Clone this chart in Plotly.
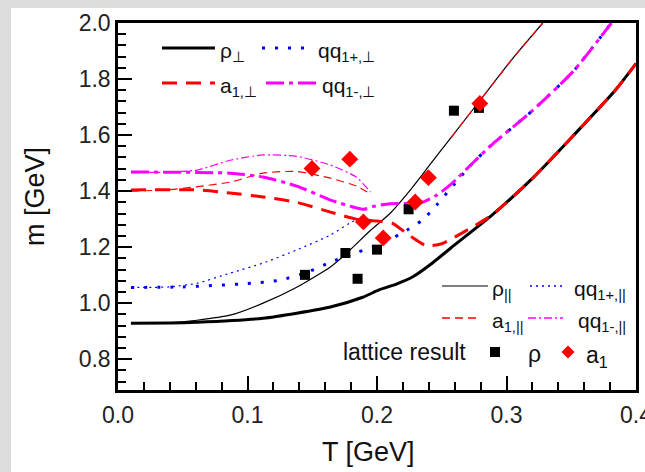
import plotly.graph_objects as go

# ---- model curves: meson masses vs temperature ----
# transverse (perp) components, thick lines
T_rho_perp = [0.01, 0.04, 0.061, 0.112, 0.138, 0.164, 0.189, 0.202, 0.215, 0.228, 0.241, 0.257, 0.289, 0.321, 0.352, 0.384, 0.40]
m_rho_perp = [0.928, 0.929, 0.932, 0.946, 0.964, 0.986, 1.021, 1.048, 1.068, 1.095, 1.137, 1.197, 1.315, 1.45, 1.60, 1.76, 1.855]

T_a1_perp = [0.01, 0.061, 0.0865, 0.112, 0.138, 0.164, 0.184, 0.2, 0.212, 0.224, 0.238, 0.25, 0.273, 0.289, 0.321, 0.352, 0.384, 0.40]
m_a1_perp = [1.404, 1.404, 1.393, 1.379, 1.36, 1.325, 1.30, 1.293, 1.285, 1.245, 1.205, 1.212, 1.27, 1.315, 1.45, 1.60, 1.76, 1.855]

T_qq1p_perp = [0.01, 0.05, 0.1, 0.125, 0.146, 0.164, 0.184, 0.2, 0.209, 0.223, 0.235, 0.246, 0.257, 0.273, 0.289, 0.32, 0.352, 0.381]
m_qq1p_perp = [1.056, 1.058, 1.07, 1.082, 1.11, 1.146, 1.18, 1.205, 1.225, 1.26, 1.296, 1.35, 1.41, 1.496, 1.567, 1.687, 1.83, 2.0]

T_qq1m_perp = [0.01, 0.0865, 0.112, 0.138, 0.164, 0.184, 0.19, 0.197, 0.21, 0.225, 0.235, 0.246, 0.257, 0.273, 0.289, 0.32, 0.352, 0.381]
m_qq1m_perp = [1.468, 1.464, 1.45, 1.418, 1.368, 1.34, 1.335, 1.345, 1.355, 1.356, 1.36, 1.385, 1.424, 1.496, 1.567, 1.687, 1.83, 2.0]

# longitudinal (parallel) components, thin lines
T_rho_par = [0.01, 0.04, 0.061, 0.0865, 0.112, 0.138, 0.164, 0.177, 0.195, 0.21, 0.225, 0.241, 0.257, 0.289, 0.305, 0.328]
m_rho_par = [0.928, 0.930, 0.939, 0.957, 1.0, 1.057, 1.129, 1.18, 1.26, 1.32, 1.40, 1.495, 1.59, 1.78, 1.875, 2.0]

T_a1_par = [0.01, 0.04, 0.0865, 0.112, 0.138, 0.164, 0.184, 0.195, None, 0.257, 0.289, 0.305, 0.328]
m_a1_par = [1.40, 1.405, 1.432, 1.464, 1.47, 1.446, 1.418, 1.39, None, 1.59, 1.78, 1.875, 2.0]

T_qq1p_par = [0.01, 0.04, 0.061, 0.0865, 0.112, 0.138, 0.164, 0.179, 0.19]
m_qq1p_par = [1.056, 1.058, 1.071, 1.107, 1.143, 1.19, 1.243, 1.286, 1.31]

T_qq1m_par = [0.01, 0.04, 0.061, 0.0865, 0.112, 0.138, 0.164, 0.184, 0.195]
m_qq1m_par = [1.466, 1.468, 1.475, 1.51, 1.529, 1.524, 1.493, 1.45, 1.396]

# ---- lattice data ----
T_lat_rho = [0.1444, 0.1756, 0.185, 0.200, 0.2244, 0.2594, 0.2787]
m_lat_rho = [1.101, 1.179, 1.087, 1.191, 1.335, 1.687, 1.697]

T_lat_a1 = [0.1498, 0.179, 0.1895, 0.2048, 0.2295, 0.2397, 0.2794]
m_lat_a1 = [1.481, 1.514, 1.290, 1.233, 1.361, 1.448, 1.713]

# axis ticks
x_ticks = [0.0, 0.1, 0.2, 0.3, 0.4]
x_ticklabels = ["0.0", "0.1", "0.2", "0.3", "0.4"]
y_ticks = [0.8, 1.0, 1.2, 1.4, 1.6, 1.8, 2.0]
y_ticklabels = ["0.8", "1.0", "1.2", "1.4", "1.6", "1.8", "2.0"]

# ---- styles ----
BLACK, RED, BLUE, MAG = "#000000", "#ff0000", "#0000ff", "#ff00ff"
THICK, THIN = 3, 1.2
DASH_A1_THICK = "15px,9px"
DASH_QQP_THICK = "3px,10px"
DASH_QQM_THICK = "18px,5px,4px,5px"
DASH_A1_THIN = "8px,5px"
DASH_QQP_THIN = "2px,4px"
DASH_QQM_THIN = "8px,3px,2px,3px"
FONT = "Liberation Sans, Arial, sans-serif"

W, H = 645, 472
L, R, TOP, B = 118, 9, 23, 82
PW, PH = W - L - R, H - TOP - B


def fx(px):
    return (px - L) / PW


def fy(py):
    return (H - B - py) / PH


fig = go.Figure()

curves = [
    (T_qq1p_par, m_qq1p_par, BLUE, THIN, DASH_QQP_THIN),
    (T_qq1m_par, m_qq1m_par, MAG, THIN, DASH_QQM_THIN),
    (T_rho_par, m_rho_par, BLACK, THIN, "solid"),
    (T_a1_par, m_a1_par, RED, THIN, DASH_A1_THIN),
    (T_rho_perp, m_rho_perp, BLACK, THICK, "solid"),
    (T_a1_perp, m_a1_perp, RED, THICK, DASH_A1_THICK),
    (T_qq1p_perp, m_qq1p_perp, BLUE, THICK, DASH_QQP_THICK),
    (T_qq1m_perp, m_qq1m_perp, MAG, THICK, DASH_QQM_THICK),
]
for xs, ys, col, w, dash in curves:
    fig.add_trace(go.Scatter(
        x=xs, y=ys, mode="lines", line=dict(color=col, width=w, dash=dash, shape="spline", smoothing=0.6),
        showlegend=False, hoverinfo="skip", connectgaps=False))

fig.add_trace(go.Scatter(x=T_lat_rho, y=m_lat_rho, mode="markers",
                         marker=dict(symbol="square", size=10, color=BLACK), showlegend=False))
fig.add_trace(go.Scatter(x=T_lat_a1, y=m_lat_a1, mode="markers",
                         marker=dict(symbol="diamond", size=13, color=RED), showlegend=False))

shapes = []
annotations = []

# white panel on the grey page
shapes.append(dict(type="rect", xref="paper", yref="paper", layer="below",
                   x0=fx(11), x1=fx(W + 5), y0=fy(H + 5), y1=fy(8),
                   fillcolor="white", line=dict(width=0)))


def sample(x0, x1, y, col, w, dash):
    shapes.append(dict(type="line", xref="paper", yref="paper",
                       x0=fx(x0), x1=fx(x1), y0=fy(y), y1=fy(y),
                       line=dict(color=col, width=w, dash=dash)))


def label(x, y, text, size=21):
    annotations.append(dict(xref="paper", yref="paper", x=fx(x), y=fy(y), text=text,
                            showarrow=False, xanchor="left", yanchor="middle",
                            font=dict(family=FONT, size=size, color="#111111")))


# legend, upper left (perp)
sample(162, 215, 48, BLACK, THICK, "solid")
label(218, 52, "ρ<sub>⊥</sub>")
sample(262, 313, 48, BLUE, THICK, DASH_QQP_THICK)
label(316, 52, "qq<sub>1+,⊥</sub>")
sample(162, 215, 83, RED, THICK, DASH_A1_THICK)
label(218, 87, "a<sub>1,⊥</sub>")
sample(266, 317, 83, MAG, THICK, DASH_QQM_THICK)
label(320, 87, "qq<sub>1-,⊥</sub>")

# legend, lower right (parallel)
sample(442, 488, 286, BLACK, THIN, "solid")
label(490, 290, "ρ<sub>||</sub>")
sample(530, 565, 286, BLUE, 1.5, DASH_QQP_THIN)
label(572, 290, "qq<sub>1+,||</sub>")
sample(442, 480, 318, RED, 1.5, DASH_A1_THIN)
label(490, 322, "a<sub>1,||</sub>")
sample(528, 563, 318, MAG, 1.5, DASH_QQM_THIN)
label(576, 322, "qq<sub>1-,||</sub>")

# lattice legend row
annotations.append(dict(xref="paper", yref="paper", x=fx(468), y=fy(352), text="lattice result",
                        showarrow=False, xanchor="right", yanchor="middle",
                        font=dict(family=FONT, size=23, color="#111111")))
shapes.append(dict(type="rect", xref="paper", yref="paper",
                   x0=fx(490), x1=fx(500), y0=fy(357), y1=fy(347),
                   fillcolor=BLACK, line=dict(width=0)))
label(526, 354, "ρ", size=23)
cx, cy, d = 568, 352, 6.5
shapes.append(dict(type="path", xref="paper", yref="paper",
                   path=f"M {fx(cx)} {fy(cy - d)} L {fx(cx + d)} {fy(cy)} L {fx(cx)} {fy(cy + d)} L {fx(cx - d)} {fy(cy)} Z",
                   fillcolor=RED, line=dict(width=0)))
label(584, 356, "a<sub>1</sub>", size=23)

# axis titles
annotations.append(dict(xref="paper", yref="paper", x=fx(35), y=fy(197), text="m [GeV]",
                        textangle=-90, showarrow=False, xanchor="center", yanchor="middle",
                        font=dict(family=FONT, size=27, color="#111111")))
annotations.append(dict(xref="paper", yref="paper", x=fx(368), y=fy(452), text="T [GeV]",
                        showarrow=False, xanchor="center", yanchor="middle",
                        font=dict(family=FONT, size=27, color="#111111")))

axis_common = dict(showline=True, mirror=True, linecolor=BLACK, linewidth=2.5,
                   ticks="inside", ticklen=14, tickwidth=2, tickcolor=BLACK,
                   showgrid=False, zeroline=False, automargin=False,
                   tickfont=dict(family=FONT, size=23, color="#222222"))

fig.update_layout(
    width=W, height=H,
    margin=dict(l=L, r=R, t=TOP, b=B, pad=0, autoexpand=False),
    paper_bgcolor="#dcdcdc", plot_bgcolor="white",
    xaxis=dict(range=[0.0, 0.4], tickvals=x_ticks, ticktext=x_ticklabels,
               ticklabeloverflow="allow", ticklabelstandoff=3,
               minor=dict(dtick=0.02, ticks="inside", ticklen=8, tickwidth=1.5, tickcolor=BLACK),
               **axis_common),
    yaxis=dict(range=[0.69, 2.0], tickvals=y_ticks, ticktext=y_ticklabels,
               minor=dict(dtick=0.04, tick0=0.0, ticks="inside", ticklen=8, tickwidth=1.5, tickcolor=BLACK),
               **axis_common),
    shapes=shapes, annotations=annotations,
)

fig.write_html("out.html")
